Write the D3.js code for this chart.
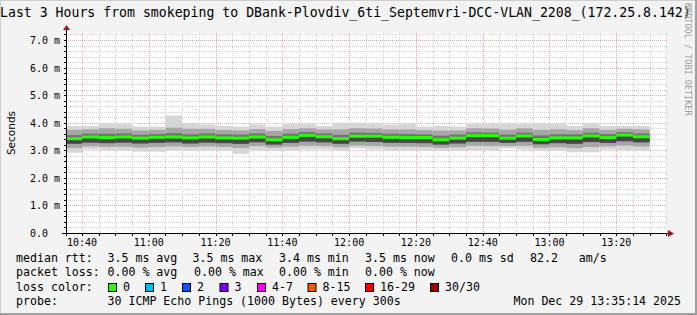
<!DOCTYPE html>
<html>
<head>
<meta charset="utf-8">
<script src="https://cdn.jsdelivr.net/npm/d3@7/dist/d3.min.js"></script>
<style>
  html, body { margin: 0; padding: 0; background: #f3f3f3; }
  svg { display: block; }
  text { font-family: "DejaVu Sans Mono", monospace; fill: #000; white-space: pre; }
</style>
</head>
<body>
<div id="chart"></div>
<script>
// 5-minute bins, start time of each
const binStarts = ['10:35','10:40','10:45','10:50','10:55','11:00','11:05','11:10','11:15','11:20',
  '11:25','11:30','11:35','11:40','11:45','11:50','11:55','12:00','12:05','12:10',
  '12:15','12:20','12:25','12:30','12:35','12:40','12:45','12:50','12:55','13:00',
  '13:05','13:10','13:15','13:20','13:25'];
// round trip times in ms
const rttMedian = [3.42,3.48,3.46,3.48,3.44,3.47,3.48,3.45,3.48,3.45,3.44,3.48,3.38,3.47,3.54,3.49,3.42,3.51,
  3.51,3.47,3.46,3.46,3.38,3.44,3.53,3.53,3.44,3.52,3.39,3.45,3.45,3.52,3.46,3.55,3.49];
const rttMax = [3.88,3.88,3.98,3.95,3.86,3.86,4.26,3.98,3.94,3.88,3.86,3.94,3.86,3.95,3.95,3.88,4.00,4.00,
  3.95,3.93,3.95,3.86,3.88,3.86,3.95,3.95,3.95,3.95,3.98,3.95,3.88,3.98,3.88,3.88,3.88];
const rttP90 = [3.74,3.76,3.80,3.78,3.72,3.74,3.82,3.78,3.78,3.74,3.72,3.77,3.70,3.77,3.80,3.76,3.76,3.80,
  3.79,3.76,3.76,3.73,3.71,3.72,3.80,3.79,3.75,3.80,3.74,3.76,3.73,3.80,3.74,3.78,3.76];
const rttP75 = [3.55,3.60,3.60,3.61,3.56,3.59,3.62,3.58,3.61,3.58,3.57,3.61,3.52,3.60,3.66,3.61,3.56,3.64,
  3.63,3.60,3.59,3.58,3.53,3.57,3.65,3.64,3.57,3.64,3.54,3.58,3.58,3.64,3.59,3.66,3.61];
const rttP25 = [3.24,3.28,3.26,3.28,3.25,3.27,3.29,3.25,3.28,3.26,3.24,3.29,3.21,3.27,3.32,3.29,3.24,3.32,
  3.30,3.27,3.27,3.26,3.21,3.25,3.31,3.31,3.27,3.31,3.22,3.26,3.24,3.30,3.27,3.33,3.29];
const rttP10 = [3.08,3.14,3.12,3.13,3.10,3.12,3.14,3.12,3.14,3.12,3.08,3.15,3.10,3.13,3.16,3.15,3.11,3.17,
  3.16,3.13,3.13,3.12,3.09,3.11,3.16,3.15,3.15,3.16,3.09,3.11,3.08,3.12,3.14,3.17,3.14];
const rttMin = [2.91,3.03,3.01,2.99,2.95,2.95,2.99,2.99,3.01,2.99,2.87,3.01,3.01,2.99,3.03,3.03,2.99,3.07,
  3.03,3.01,3.01,2.99,3.01,2.99,3.01,3.01,3.07,3.03,2.99,2.99,2.93,2.93,3.03,3.01,3.01];

const yTicks = [0,1,2,3,4,5,6,7];
const yTickLabels = ['0.0','1.0 m','2.0 m','3.0 m','4.0 m','5.0 m','6.0 m','7.0 m'];
const xTickLabels = ['10:40','11:00','11:20','11:40','12:00','12:20','12:40','13:00','13:20'];

const lossLabels = ['0','1','2','3','4-7','8-15','16-29','30/30'];
const lossColors = ['#26ff00','#00b8ff','#0059ff','#7e00ff','#ff00ff','#ff5500','#ff0000','#a10000'];

const W = 697, H = 315;
const m = { l: 66, r: 30, t: 33, b: 82 };
const day = '2025-12-29T';
const parse = d3.timeParse('%Y-%m-%dT%H:%M:%S');
const tp = s => parse(day + s + ':00');

const svg = d3.select('#chart').append('svg').attr('width', W).attr('height', H);

// frame
svg.append('rect').attr('width', W).attr('height', H).attr('fill', '#f3f3f3');
svg.append('path').attr('d', `M0,${H} V0 H${W}`).attr('stroke', '#cfcfcf').attr('stroke-width', 2).attr('fill', 'none');
svg.append('path').attr('d', `M0,${H - 1} H${W - 1} V0`).attr('stroke', '#9e9e9e').attr('stroke-width', 2).attr('fill', 'none');

const x = d3.scaleTime()
  .domain([parse(day + '10:35:12'), parse(day + '13:35:12')])
  .range([m.l, W - m.r]);
const y = d3.scaleLinear().domain([0, 7.254]).range([H - m.b, m.t]);

svg.append('rect')
  .attr('x', m.l).attr('y', m.t)
  .attr('width', x.range()[1] - m.l).attr('height', y(0) - m.t)
  .attr('fill', '#fff');

svg.append('clipPath').attr('id', 'plot')
  .append('rect').attr('x', m.l).attr('y', m.t)
  .attr('width', x.range()[1] - m.l).attr('height', y(0) - m.t);

// grid
const grid = svg.append('g');
const minorY = d3.range(0, 7.21, 0.2).filter(v => Math.abs(v - Math.round(v)) > 0.01);
const minorX = d3.timeMinute.every(5).range(parse(day + '10:36:00'), parse(day + '13:36:00'))
  .filter(d => d.getMinutes() % 20 !== 0);
grid.selectAll('.hmin').data(minorY).join('line')
  .attr('x1', m.l).attr('x2', x.range()[1])
  .attr('y1', d => Math.round(y(d)) + 0.5).attr('y2', d => Math.round(y(d)) + 0.5)
  .attr('stroke', '#cfcfcf').attr('stroke-dasharray', '1,1');
grid.selectAll('.vmin').data(minorX).join('line')
  .attr('y1', m.t).attr('y2', y(0))
  .attr('x1', d => Math.round(x(d)) + 0.5).attr('x2', d => Math.round(x(d)) + 0.5)
  .attr('stroke', '#cfcfcf').attr('stroke-dasharray', '1,1');
grid.selectAll('.hmaj').data(yTicks.slice(1)).join('line')
  .attr('x1', m.l).attr('x2', x.range()[1])
  .attr('y1', d => Math.round(y(d)) + 0.5).attr('y2', d => Math.round(y(d)) + 0.5)
  .attr('stroke', '#e3a9a9').attr('stroke-dasharray', '1,1');
grid.selectAll('.vmaj').data(xTickLabels).join('line')
  .attr('y1', m.t).attr('y2', y(0))
  .attr('x1', d => Math.round(x(tp(d))) + 0.5).attr('x2', d => Math.round(x(tp(d))) + 0.5)
  .attr('stroke', '#e3a9a9').attr('stroke-dasharray', '1,1');

// smoke
const bins = binStarts.map((s, i) => ({
  t0: tp(s), t1: d3.timeMinute.offset(tp(s), 5),
  med: rttMedian[i], max: rttMax[i], p90: rttP90[i], p75: rttP75[i],
  p25: rttP25[i], p10: rttP10[i], min: rttMin[i]
}));
const smoke = svg.append('g').attr('clip-path', 'url(#plot)');
const layers = [
  ['min', 'max', '#d6d6d6'],
  ['p10', 'p90', '#a6a6a6'],
  ['p25', 'p75', '#737373'],
  ['p25', 'med', '#474747']
];
layers.forEach(([lo, hi, col]) => {
  smoke.append('g').selectAll('rect').data(bins).join('rect')
    .attr('x', d => x(d.t0)).attr('width', d => x(d.t1) - x(d.t0))
    .attr('y', d => y(d[hi])).attr('height', d => y(d[lo]) - y(d[hi]))
    .attr('fill', col);
});
smoke.append('g').selectAll('rect').data(bins).join('rect')
  .attr('x', d => x(d.t0)).attr('width', d => x(d.t1) - x(d.t0))
  .attr('y', d => y(d.med) - 1.5).attr('height', 3)
  .attr('fill', lossColors[0]);

// axes
const ax = svg.append('g');
ax.append('line').attr('x1', m.l - 4).attr('x2', x.range()[1] + 3)
  .attr('y1', y(0) + 0.5).attr('y2', y(0) + 0.5).attr('stroke', '#000');
ax.append('line').attr('x1', m.l + 0.5).attr('x2', m.l + 0.5)
  .attr('y1', y(0) + 3).attr('y2', m.t - 5).attr('stroke', '#000');
ax.append('path').attr('d', `M${m.l - 3},${m.t - 3} L${m.l + 4},${m.t - 3} L${m.l + 0.5},${m.t - 8} Z`).attr('fill', '#a31515');
const xr = x.range()[1];
ax.append('path').attr('d', `M${xr + 1},${y(0) - 3} L${xr + 1},${y(0) + 4} L${xr + 7},${y(0) + 0.5} Z`).attr('fill', '#a31515');

// axis ticks
ax.selectAll('.yt').data(minorY.concat(yTicks)).join('line')
  .attr('x1', m.l - 2).attr('x2', m.l)
  .attr('y1', d => Math.round(y(d)) + 0.5).attr('y2', d => Math.round(y(d)) + 0.5)
  .attr('stroke', '#000');
ax.selectAll('.xt').data(minorX.concat(xTickLabels.map(tp))).join('line')
  .attr('y1', y(0)).attr('y2', y(0) + 3)
  .attr('x1', d => Math.round(x(d)) + 0.5).attr('x2', d => Math.round(x(d)) + 0.5)
  .attr('stroke', '#000');

// tick labels
svg.append('g').selectAll('text').data(yTicks).join('text')
  .attr('x', 30).attr('y', d => y(d) + 4)
  .style('font-size', '10px')
  .text((d, i) => yTickLabels[i]);
svg.append('g').selectAll('text').data(xTickLabels).join('text')
  .attr('x', d => x(tp(d))).attr('y', y(0) + 13)
  .attr('text-anchor', 'middle')
  .style('font-size', '10px')
  .text(d => d);

svg.append('text')
  .attr('transform', `translate(14.5,${(y(0) + m.t) / 2}) rotate(-90)`)
  .attr('text-anchor', 'middle')
  .style('font-family', '"DejaVu Sans", sans-serif').style('font-size', '10.5px')
  .text('Seconds');

// title
svg.append('text').attr('x', 0).attr('y', 17)
  .style('font-size', '13.2px')
  .text('Last 3 Hours from smokeping to DBank-Plovdiv_6ti_Septemvri-DCC-VLAN_2208_(172.25.8.142)');

// watermark
svg.append('text')
  .attr('transform', 'translate(685,3) rotate(90)')
  .style('font-size', '8.5px').style('fill', '#9c9c9c')
  .text('RRDTOOL / TOBI OETIKER');

// legend
const lg = svg.append('g').style('font-size', '11.6px');
const row1 = [[16,'median rtt:'],[107.5,'3.5 ms avg'],[192.5,'3.5 ms max'],[279,'3.4 ms min'],
  [365,'3.5 ms now'],[451,'0.0 ms sd'],[530,'82.2   am/s']];
const row2 = [[16,'packet loss:'],[107.5,'0.00 % avg'],[194,'0.00 % max'],[279,'0.00 % min'],[365,'0.00 % now']];
lg.selectAll('.r1').data(row1).join('text').attr('x', d => d[0]).attr('y', 262).text(d => d[1]);
lg.selectAll('.r2').data(row2).join('text').attr('x', d => d[0]).attr('y', 276).text(d => d[1]);
lg.append('text').attr('x', 16).attr('y', 291).text('loss color:');
const boxX = [108, 145, 182, 219.5, 257, 307.5, 365, 430];
lg.selectAll('.lb').data(lossColors).join('rect')
  .attr('x', (d, i) => boxX[i] + 0.5).attr('y', 283.5).attr('width', 8).attr('height', 8)
  .attr('fill', d => d).attr('stroke', '#000');
lg.selectAll('.lt').data(lossLabels).join('text')
  .attr('x', (d, i) => boxX[i] + 15).attr('y', 291).text(d => d);
lg.append('text').attr('x', 16).attr('y', 305).text('probe:');
lg.append('text').attr('x', 107.5).attr('y', 305).text('30 ICMP Echo Pings (1000 Bytes) every 300s');
lg.append('text').attr('x', 681).attr('y', 305).attr('text-anchor', 'end').text('Mon Dec 29 13:35:14 2025');
</script>
</body>
</html>
